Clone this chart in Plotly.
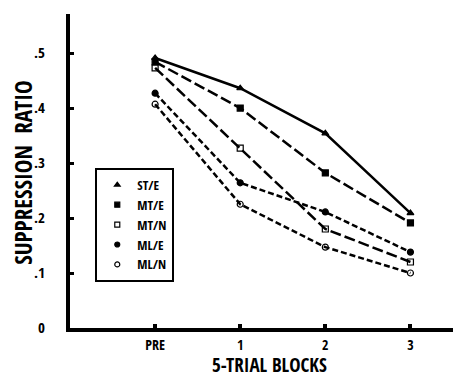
import plotly.graph_objects as go

blocks = ["PRE", "1", "2", "3"]
st_e = [0.491, 0.436, 0.354, 0.209]
mt_e = [0.484, 0.400, 0.282, 0.191]
mt_n = [0.473, 0.327, 0.180, 0.120]
ml_e = [0.427, 0.264, 0.211, 0.138]
ml_n = [0.407, 0.225, 0.147, 0.100]

ytick_vals = [0, 0.1, 0.2, 0.3, 0.4, 0.5]
ytick_text = ["0", ".1", ".2", ".3", ".4", ".5"]

series = [
    ("ST/E", st_e, "solid", "triangle-up"),
    ("MT/E", mt_e, "11px,4px", "square"),
    ("MT/N", mt_n, "11px,4px", "square-open"),
    ("ML/E", ml_e, "6px,3px", "circle"),
    ("ML/N", ml_n, "6px,3px", "circle-open"),
]

FONT = "Open Sans Condensed, Roboto Condensed, sans-serif"
xs = list(range(len(blocks)))

fig = go.Figure()
for name, vals, dash, sym in series:
    fig.add_trace(go.Scatter(
        x=xs, y=vals, mode="lines+markers", name=name, showlegend=False,
        line=dict(color="black", width=2.5, dash=dash),
        marker=dict(symbol=sym, size=6, color="black", line=dict(color="black", width=1.2)),
    ))
for name, vals, dash, sym in series:
    fig.add_trace(go.Scatter(
        x=[None], y=[None], mode="markers", name=name,
        marker=dict(symbol=sym, size=5, color="black", line=dict(color="black", width=1.2)),
    ))

fig.update_layout(
    width=453, height=381,
    margin=dict(l=70, r=0, t=14, b=53),
    paper_bgcolor="white", plot_bgcolor="white",
    font=dict(family=FONT, color="black", size=14, weight=800),
    legend=dict(
        x=0.066, y=0.51, xanchor="left", yanchor="top",
        bordercolor="black", borderwidth=2, bgcolor="white",
        font=dict(family=FONT, size=13, weight=800),
        tracegroupgap=0, itemwidth=30,
    ),
    xaxis=dict(
        range=[-1, 3.5], tickvals=xs, ticktext=blocks,
        showline=True, linecolor="black", linewidth=4,
        ticks="inside", ticklen=4, tickwidth=4, tickcolor="black",
        showgrid=False, zeroline=False, automargin=False,
        tickfont=dict(family=FONT, size=14, weight=800),
        ticklabelstandoff=1,
    ),
    yaxis=dict(
        range=[0, 0.571], tickvals=ytick_vals, ticktext=ytick_text,
        showline=True, linecolor="black", linewidth=4,
        ticks="inside", ticklen=4, tickwidth=3, tickcolor="black",
        showgrid=False, zeroline=False, automargin=False,
        tickfont=dict(family=FONT, size=15, weight=800),
        ticklabelstandoff=18,
    ),
    annotations=[
        dict(text="5-TRIAL BLOCKS", xref="paper", yref="paper", x=0.522, y=-0.166,
             xanchor="center", yanchor="bottom", showarrow=False,
             font=dict(family=FONT, size=19, weight=800)),
        dict(text="SUPPRESSION  RATIO", xref="paper", yref="paper", x=-0.123, y=0.497,
             xanchor="center", yanchor="middle", showarrow=False, textangle=-90,
             font=dict(family=FONT, size=23, weight=800)),
    ],
)

fig.write_html("out.html", post_script="document.body.style.margin='0';",
               config={"displayModeBar": False})
